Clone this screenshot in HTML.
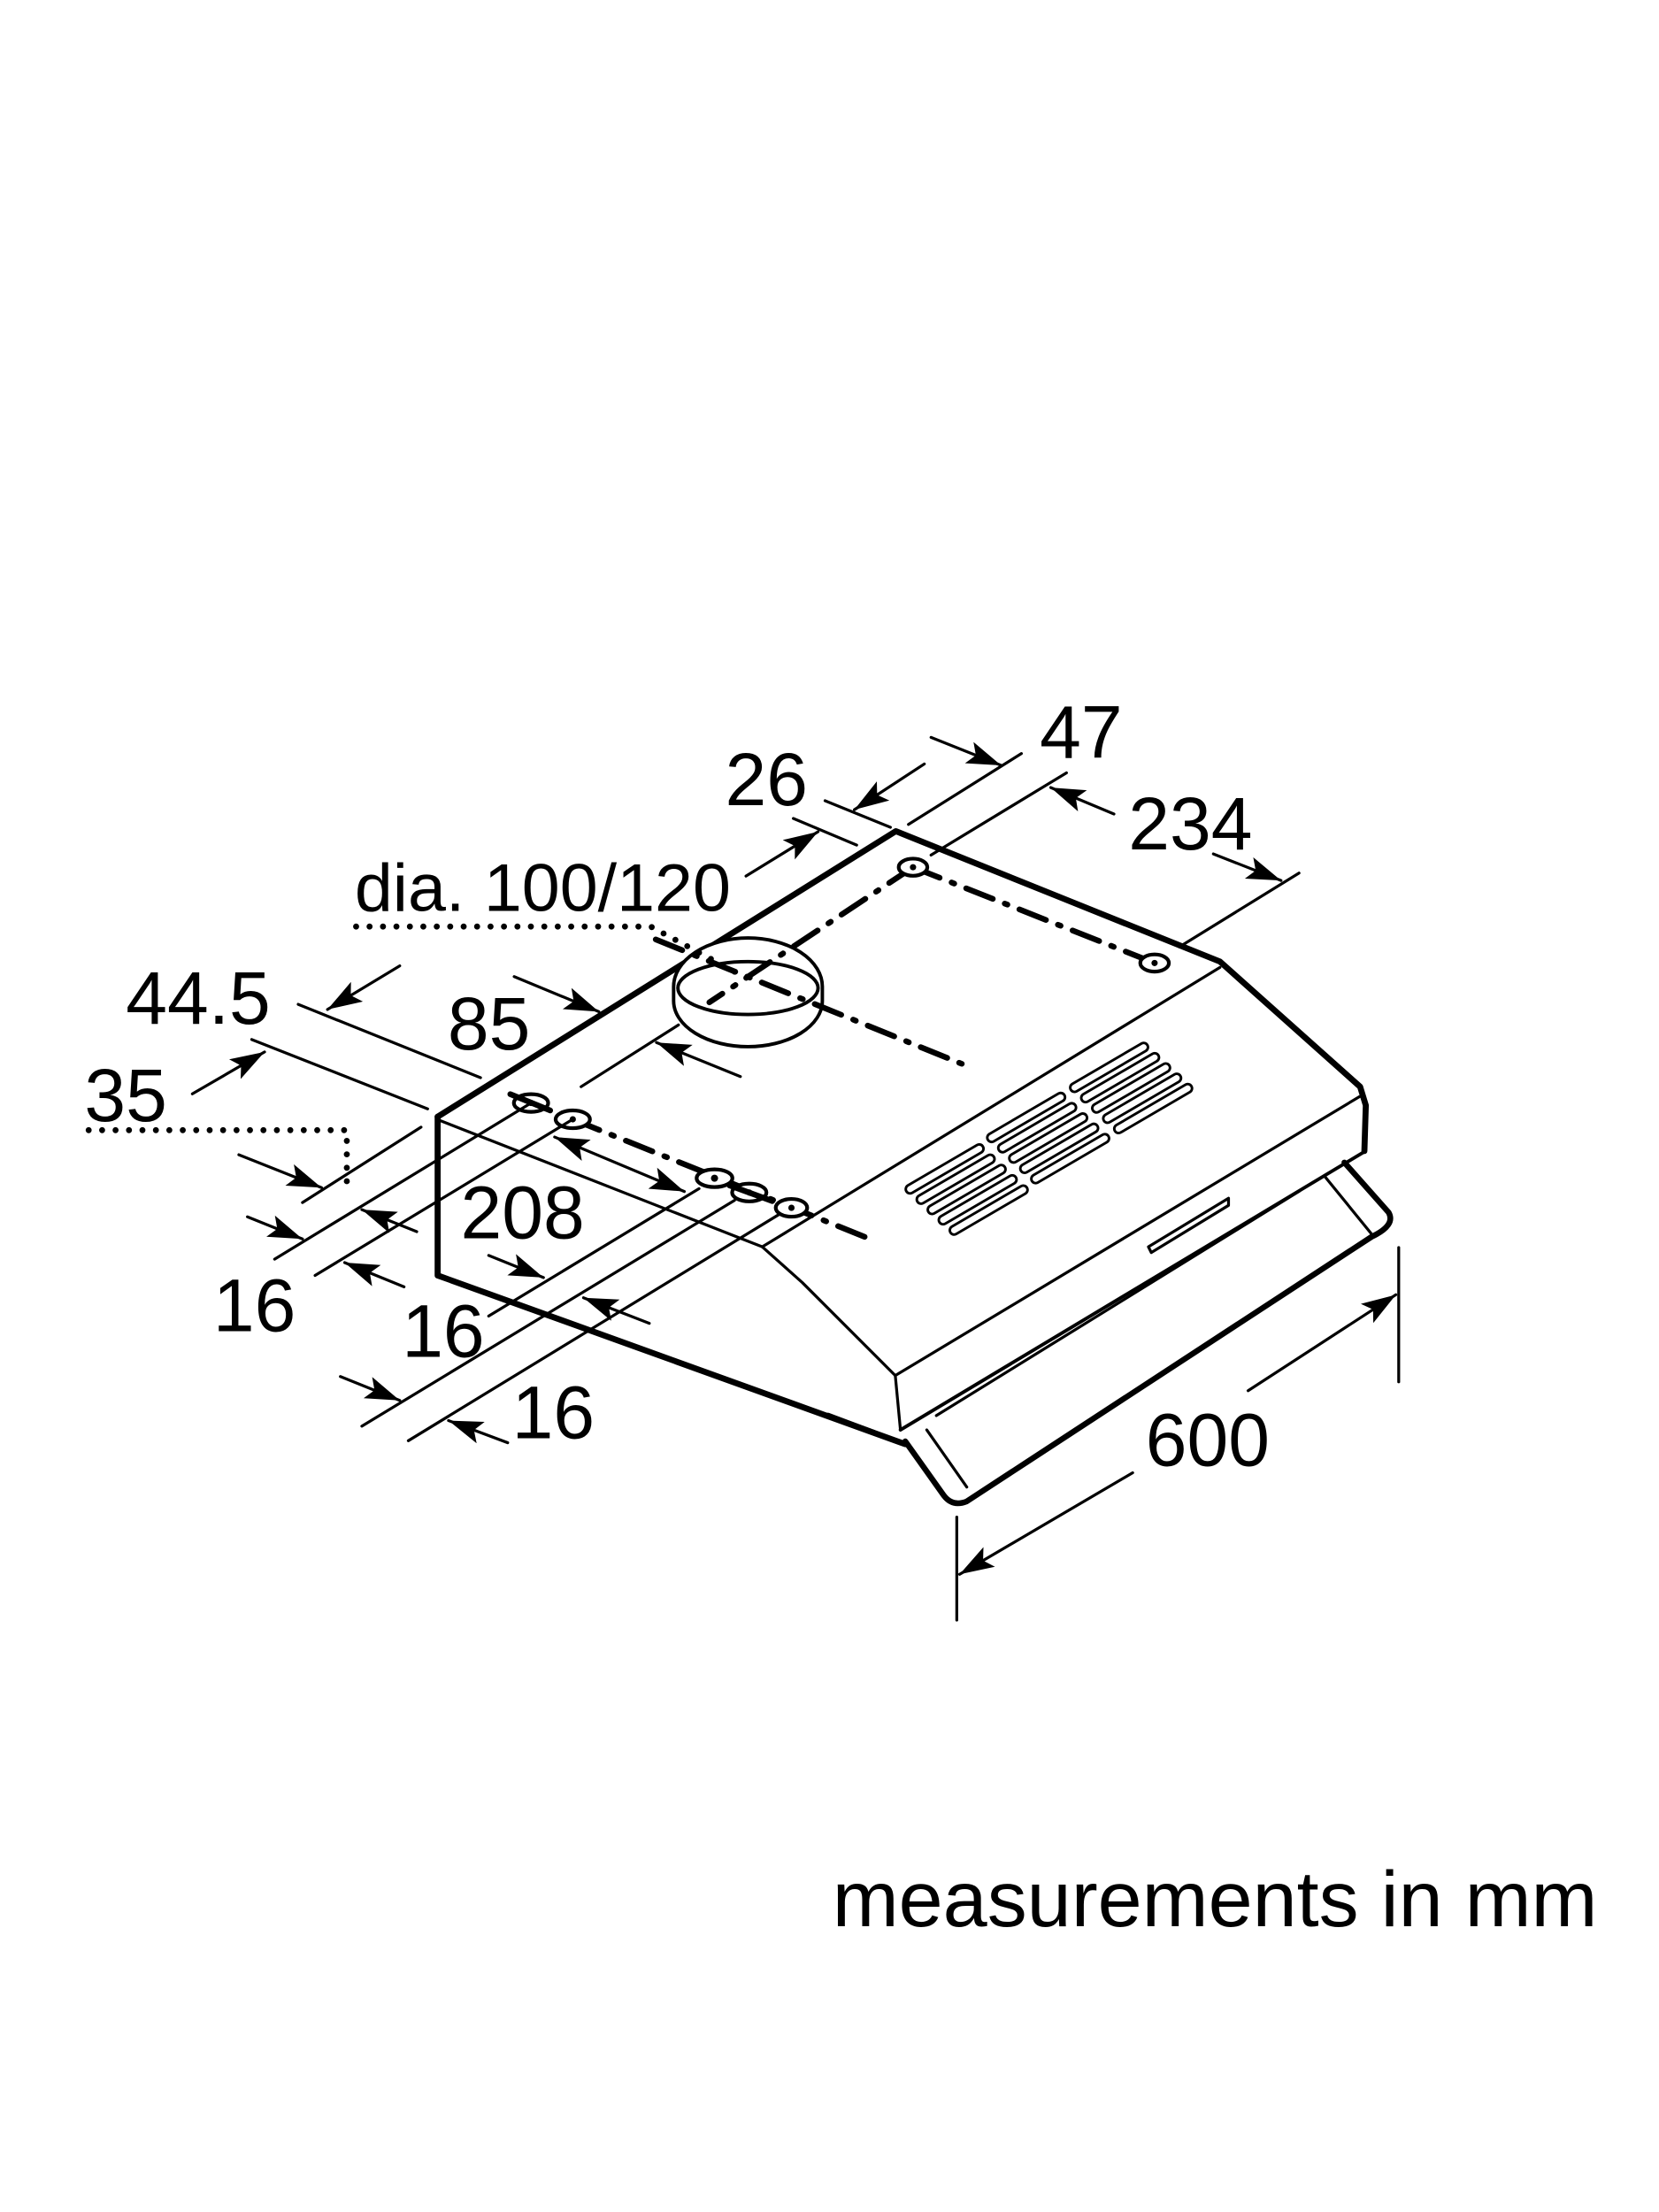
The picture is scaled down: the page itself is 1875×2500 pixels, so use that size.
<!DOCTYPE html>
<html><head><meta charset="utf-8"><style>
html,body{margin:0;padding:0;background:#fff;}
svg{display:block;}
text{font-family:"Liberation Sans",sans-serif;fill:#000;}
</style></head><body>
<svg width="1875" height="2500" viewBox="0 0 1160 1547" preserveAspectRatio="none" xmlns="http://www.w3.org/2000/svg">
<defs>
<marker id="a" markerUnits="userSpaceOnUse" markerWidth="26" markerHeight="18" refX="24" refY="8" orient="auto-start-reverse">
<path d="M0,0 L24,8 L0,16 L5,8 Z" fill="#000"/>
</marker>
</defs>
<rect width="1160" height="1547" fill="#fff"/>

<g fill="none" stroke="#000" stroke-linecap="round" stroke-linejoin="round">
<path d="M306,781 L626.4,581.3 L853,672.5 L951,760 L955,773 L954,805" stroke-width="4.2"/>
<path d="M306,781 L306,892 L633,1010" stroke-width="4.2"/>
<path d="M579,990 L611,1002" stroke-width="4"/>
<path d="M306,783 L533,872 L561,897 L626,962 L629.6,1000" stroke-width="2"/>
<path d="M533,872 L853,676.6" stroke-width="2"/>
<path d="M626,962 L950.5,767" stroke-width="2"/>
<path d="M629.6,1000 L954,805.5" stroke-width="2.4"/>
<path d="M803,872 L859,838 L859,843 L805,876 Z" stroke-width="2"/>
<path d="M633,1008 L660,1046 Q666,1054 676,1050 L959,865 Q976,857 971,848 L940,813" stroke-width="4"/>
<path d="M648,1000 L676,1040" stroke-width="2"/>
<path d="M926.5,823 L959,863" stroke-width="2"/>
<path d="M908.6,833 L654.7,990" stroke-width="2"/>

<g stroke-width="1.8">
<g transform="translate(660.5,817.5)">
 <g transform="rotate(-30.3)"><rect x="-31" y="-3" width="62" height="6" rx="3"/></g>
 <g transform="translate(7.7,7.2) rotate(-30.3)"><rect x="-31" y="-3" width="62" height="6" rx="3"/></g>
 <g transform="translate(15.4,14.4) rotate(-30.3)"><rect x="-31" y="-3" width="62" height="6" rx="3"/></g>
 <g transform="translate(23.1,21.6) rotate(-30.3)"><rect x="-31" y="-3" width="62" height="6" rx="3"/></g>
 <g transform="translate(30.8,28.8) rotate(-30.3)"><rect x="-31" y="-3" width="62" height="6" rx="3"/></g>
</g>
<g transform="translate(717.5,781.5)">
 <g transform="rotate(-30.3)"><rect x="-31" y="-3" width="62" height="6" rx="3"/></g>
 <g transform="translate(7.7,7.2) rotate(-30.3)"><rect x="-31" y="-3" width="62" height="6" rx="3"/></g>
 <g transform="translate(15.4,14.4) rotate(-30.3)"><rect x="-31" y="-3" width="62" height="6" rx="3"/></g>
 <g transform="translate(23.1,21.6) rotate(-30.3)"><rect x="-31" y="-3" width="62" height="6" rx="3"/></g>
 <g transform="translate(30.8,28.8) rotate(-30.3)"><rect x="-31" y="-3" width="62" height="6" rx="3"/></g>
</g>
<g transform="translate(775.5,746.5)">
 <g transform="rotate(-30.3)"><rect x="-31" y="-3" width="62" height="6" rx="3"/></g>
 <g transform="translate(7.7,7.2) rotate(-30.3)"><rect x="-31" y="-3" width="62" height="6" rx="3"/></g>
 <g transform="translate(15.4,14.4) rotate(-30.3)"><rect x="-31" y="-3" width="62" height="6" rx="3"/></g>
 <g transform="translate(23.1,21.6) rotate(-30.3)"><rect x="-31" y="-3" width="62" height="6" rx="3"/></g>
 <g transform="translate(30.8,28.8) rotate(-30.3)"><rect x="-31" y="-3" width="62" height="6" rx="3"/></g>
</g>
</g>

<g stroke-width="2.4" fill="#fff">
<path d="M471,690 A52,34 0 0 1 575,690 L575,700 A52,32 0 0 1 471,700 Z"/>
<ellipse cx="523" cy="691" rx="49" ry="18.5"/>
</g>

<g stroke-width="4" stroke-dasharray="20 9 2 9">
<path d="M638.4,606.5 L807.3,673.5"/>
<path d="M638.4,606.5 L496,701"/>
<path d="M458.5,657 L679.4,746.8"/>
<path d="M400.5,782.8 L612,868"/>
</g>

<g stroke-width="2.6" fill="#fff">
<ellipse cx="638.4" cy="606.5" rx="10" ry="6"/>
<ellipse cx="807.3" cy="673.5" rx="10" ry="6"/>
<ellipse cx="371.3" cy="771.4" rx="12" ry="6.2"/>
<ellipse cx="400.5" cy="782.8" rx="12" ry="6.2"/>
<ellipse cx="499.6" cy="824" rx="12.5" ry="6.2"/>
<ellipse cx="523.9" cy="834" rx="12" ry="6.2"/>
<ellipse cx="553.4" cy="844.7" rx="11" ry="6.2"/>
</g>
<g fill="#000" stroke="none">
<circle cx="638.4" cy="606.5" r="2.2"/><circle cx="807.3" cy="673.5" r="2.2"/>
<circle cx="371.3" cy="771.4" r="2.2"/><circle cx="400.5" cy="782.8" r="2.2"/>
<circle cx="499.6" cy="824" r="2.5"/><circle cx="523.9" cy="834" r="2.2"/><circle cx="553.4" cy="844.7" r="2.2"/>
</g>
<path d="M356.8,765.2 L384.7,776.6" stroke-width="4"/>
<path d="M510,829 L540,840" stroke-width="4"/>

<g stroke-width="4.2" stroke-dasharray="0 9.4">
<path d="M249,648 L455,648 L520,683"/>
<path d="M62,790.4 L242.5,790.4 L242.5,834"/>
</g>

<g stroke-width="2">
<path d="M576.9,560 L622.6,578.6"/>
<path d="M554.7,572.4 L599,591"/>
<path d="M714.2,527 L635.2,576.6"/>
<path d="M745.7,540.5 L651,598"/>
<path d="M908.3,610.6 L824.7,662.2"/>
<path d="M208.5,702.4 L336,753.7"/>
<path d="M176,727 L299,775.5"/>
<path d="M474.4,716.8 L406.3,760"/>
<path d="M211.5,841 L294.4,788.3"/>
<path d="M371.3,771.4 L192,880.6"/>
<path d="M400.5,782.8 L220.3,892"/>
<path d="M488.8,831.3 L341.7,920.4"/>
<path d="M513.6,839.5 L253,997.4"/>
<path d="M545.6,848.8 L285.5,1007.6"/>
<path d="M978,872.5 L978,966.4"/>
<path d="M669,1061 L669,1133"/>
</g>

<g stroke-width="2" marker-end="url(#a)">
<path d="M521.6,612.7 L572,581.7"/>
<path d="M646.3,534.3 L597.4,566.3"/>
<path d="M651,515.7 L700,535.3"/>
<path d="M778.9,569.3 L734.7,550.8"/>
<path d="M848.4,597.2 L895.7,615.8"/>
<path d="M279.5,675.5 L229,706"/>
<path d="M134.5,765 L185,735.7"/>
<path d="M359.5,683 L418.7,707.5"/>
<path d="M517.7,752.9 L459,729.1"/>
<path d="M167,807.6 L224.8,830.6"/>
<path d="M173,851 L211.5,866.5"/>
<path d="M291.4,861.4 L253,846"/>
<path d="M282.5,900 L241,883"/>
<path d="M341.7,878 L380,893.5"/>
<path d="M454,925.5 L408,907.6"/>
<path d="M238,962.7 L279.5,979.4"/>
<path d="M355,1009 L313.6,993.5"/>
<path d="M872.7,972.6 L976,905.5"/>
<path d="M792,1030 L671,1101"/>
<path d="M387.8,795.2 L478.5,833.3" marker-start="url(#a)"/>
</g>
</g>

<g font-size="52">
<text x="727" y="530">47</text>
<text x="507" y="563">26</text>
<text x="789" y="594">234</text>
<text x="88" y="716">44.5</text>
<text x="59" y="784">35</text>
<text x="313" y="734">85</text>
<text x="322" y="866">208</text>
<text x="149" y="931">16</text>
<text x="281" y="949">16</text>
<text x="358" y="1006">16</text>
<text x="801" y="1025">600</text>
</g>
<text x="248" y="637" font-size="47" textLength="263" lengthAdjust="spacingAndGlyphs">dia. 100/120</text>
<text x="582" y="1347" font-size="55" textLength="535" lengthAdjust="spacingAndGlyphs">measurements in mm</text>
</svg>
</body></html>
